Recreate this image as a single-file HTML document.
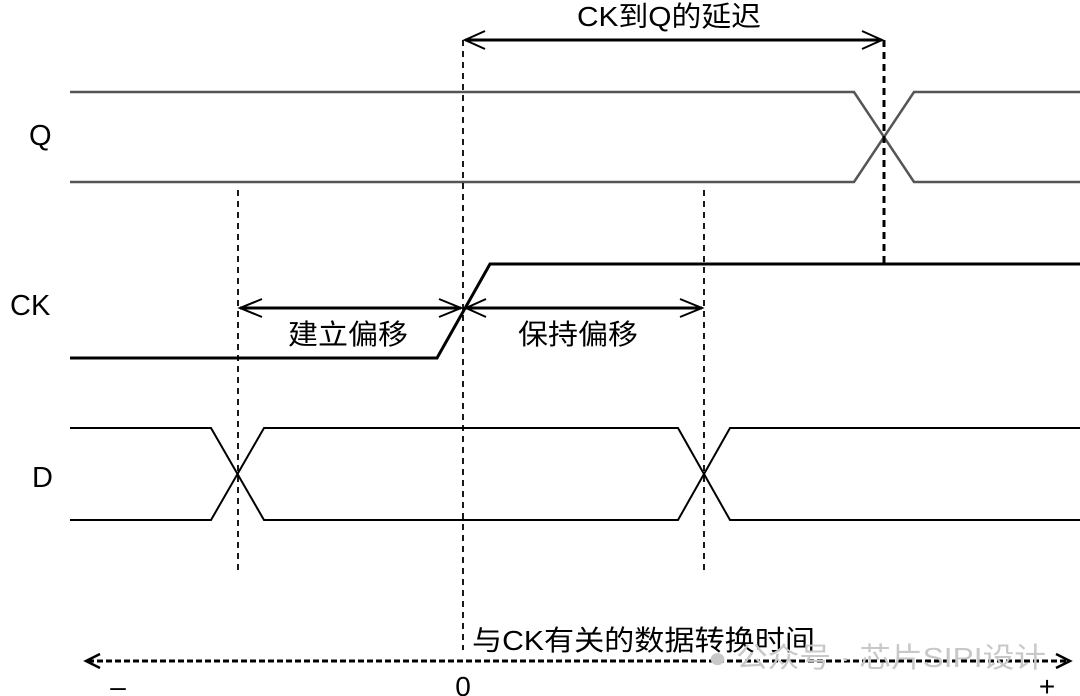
<!DOCTYPE html>
<html><head><meta charset="utf-8"><style>
html,body{margin:0;padding:0;background:#fff;width:1080px;height:696px;overflow:hidden}
svg{display:block}
text{font-family:"Liberation Sans","Noto Sans CJK SC",sans-serif;fill:#000}
</style></head><body>
<svg width="1080" height="696" viewBox="0 0 1080 696" xmlns="http://www.w3.org/2000/svg">
<g fill="none" stroke-linejoin="miter">
<path d="M70 92 H854 L914 182 H1080" stroke="#555" stroke-width="2.5"/>
<path d="M70 182 H854 L914 92 H1080" stroke="#555" stroke-width="2.5"/>
<path d="M70 358 H437 L490 264 H1080" stroke="#000" stroke-width="3"/>
<path d="M70 428 H211 L264 520 H678 L730 428 H1080" stroke="#000" stroke-width="2"/>
<path d="M70 520 H211 L264 428 H678 L730 520 H1080" stroke="#000" stroke-width="2"/>
<g stroke="#000" stroke-width="1.8" stroke-dasharray="6,5">
<line x1="463" y1="40" x2="463" y2="650"/>
<line x1="238" y1="190" x2="238" y2="570"/>
<line x1="704" y1="190" x2="704" y2="570"/>
</g>
<line x1="884" y1="40" x2="884" y2="264" stroke="#000" stroke-width="3" stroke-dasharray="7,5"/>
<line x1="465" y1="40" x2="882" y2="40" stroke="#000" stroke-width="3"/>
<path d="M485 31 L465 40 L485 49 M862 31 L882 40 L862 49" stroke="#000" stroke-width="2"/>
<line x1="240" y1="308" x2="461" y2="308" stroke="#000" stroke-width="3"/>
<path d="M262 299 L240 308 L262 317 M439 299 L461 308 L439 317" stroke="#000" stroke-width="2"/>
<line x1="466" y1="308" x2="702" y2="308" stroke="#000" stroke-width="3"/>
<path d="M486 299 L466 308 L486 317 M680 299 L702 308 L680 317" stroke="#000" stroke-width="2"/>
<line x1="88" y1="661" x2="1068" y2="661" stroke="#000" stroke-width="3" stroke-dasharray="6,3"/>
<path d="M100 654 L86 661 L100 668 M1056 654 L1070 661 L1056 668" stroke="#000" stroke-width="2.5"/>
</g>
<text x="29" y="145" font-size="29">Q</text>
<text x="10" y="315" font-size="29">CK</text>
<text x="32" y="487" font-size="29">D</text>
<text x="577" y="26" font-size="28" textLength="184" lengthAdjust="spacingAndGlyphs">CK到Q的延迟</text>
<text x="288" y="344" font-size="28" textLength="120" lengthAdjust="spacingAndGlyphs">建立偏移</text>
<text x="518" y="344" font-size="28" textLength="120" lengthAdjust="spacingAndGlyphs">保持偏移</text>
<text x="472" y="650" font-size="28" textLength="343" lengthAdjust="spacingAndGlyphs">与CK有关的数据转换时间</text>
<text x="708" y="667" font-size="28" style="fill:#c8c8c8" textLength="338" lengthAdjust="spacingAndGlyphs">● 公众号 · 芯片SIPI设计</text>
<text x="118" y="696" font-size="28" text-anchor="middle">–</text>
<text x="463" y="696" font-size="28" text-anchor="middle">0</text>
<text x="1047" y="696" font-size="28" text-anchor="middle">+</text>
</svg>
</body></html>
